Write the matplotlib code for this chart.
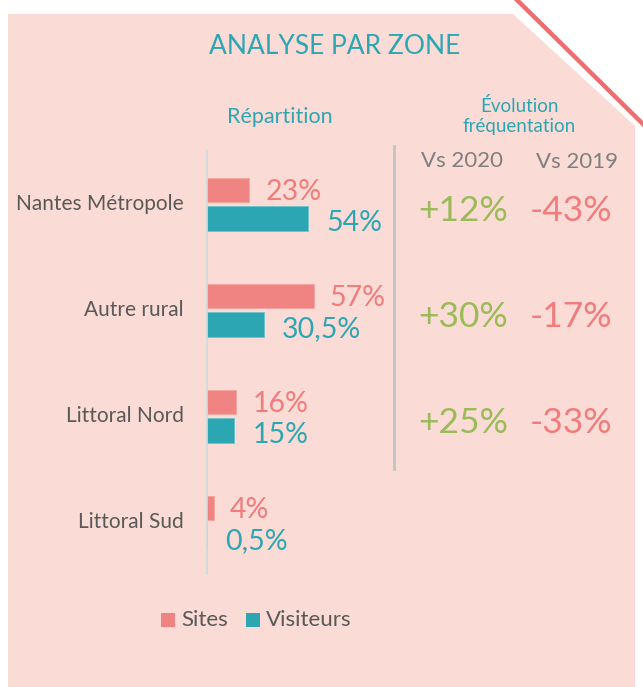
import matplotlib
matplotlib.use("Agg")
import matplotlib.pyplot as plt
from matplotlib.patches import Polygon, Rectangle
from matplotlib.lines import Line2D

plt.rcParams['font.family'] = ['Lato', 'DejaVu Sans']

zones = ['Nantes Métropole', 'Autre rural', 'Littoral Nord', 'Littoral Sud']
sites = [23, 57, 16, 4]
visiteurs = [54, 30.5, 15, 0.5]
sites_lbl = ['23%', '57%', '16%', '4%']
visit_lbl = ['54%', '30,5%', '15%', '0,5%']
vs2020 = ['+12%', '+30%', '+25%']
vs2019 = ['-43%', '-17%', '-33%']

bg = '#FADBD5'
pink = '#EF8482'
teal = '#2CA6B2'
green = '#9BBB59'
red = '#F07C7C'
grey = '#595959'

W, H = 643, 687
fig = plt.figure(figsize=(W / 100, H / 100), dpi=100, facecolor='white')

def fx(x): return x / W
def fy(y): return 1 - y / H

# pink panel with cut corner
pts = [(8, 14), (513, 14), (635, 126), (635, 687), (8, 687)]
fig.patches.append(Polygon([(fx(a), fy(b)) for a, b in pts], closed=True,
                           transform=fig.transFigure, facecolor=bg, edgecolor='none', zorder=-5))
fig.lines.append(Line2D([fx(517), fx(645)], [fy(0), fy(126)], transform=fig.transFigure,
                        color='#EE6E70', lw=3.2, zorder=-4))

# bar axes: x scale 1.89 px per %
px_per = 1.89
ax_w = 200
ax = fig.add_axes([fx(206), fy(575), ax_w / W, (575 - 150) / H])
ax.set_zorder(2)
ax.set_facecolor('none')
ax.set_xlim(0, ax_w / px_per)
ax.set_ylim(3.5, -0.51)
for s in ax.spines.values():
    s.set_visible(False)
ax.set_xticks([])
ax.set_yticks([])
ax.axvline(0, color='#D3DADD', lw=2)

ys = list(range(len(zones)))
h = 0.23
off = 0.135
ax.barh([y - off for y in ys], sites, height=h, color=pink, edgecolor='#F5A5A0', lw=0.6)
ax.barh([y + off for y in ys], visiteurs, height=h, color=teal, edgecolor='#6CC4CB', lw=0.6)

for y, v, t in zip(ys, sites, sites_lbl):
    ax.text(v + 8.5, y - off + 0.02, t, color=red, fontsize=20.5, va='center', ha='left')
for y, v, t in zip(ys, visiteurs, visit_lbl):
    ax.text(v + 9.5, y + off + 0.04, t, color=teal, fontsize=20.5, va='center', ha='left')

for y, z in zip(ys, zones):
    fig.text(fx(184), fy(204 + 106 * y), z, color=grey, fontsize=15, ha='right', va='center')

# evolution columns
ax.plot([(394 - 206) / px_per] * 2, [-0.55, 2.5], color='#C4C4C4', lw=2, clip_on=False)
for y, a, b in zip(ys, vs2020, vs2019):
    ax.text((463 - 206) / px_per, y + 0.07, a, color=green, fontsize=25.5, ha='center', va='center', clip_on=False)
    ax.text((571 - 206) / px_per, y + 0.07, b, color=red, fontsize=25.5, ha='center', va='center', clip_on=False)

fig.text(fx(335), fy(47), 'ANALYSE PAR ZONE', color=teal, fontsize=19, ha='center', va='center')
fig.text(fx(280), fy(117), 'Répartition', color=teal, fontsize=15.5, ha='center', va='center')
fig.text(fx(519), fy(116), 'Évolution\nfréquentation', color=teal, fontsize=13.5, ha='center',
         va='center', linespacing=1.2)
fig.text(fx(462), fy(161), 'Vs 2020', color='#7F7F7F', fontsize=16, ha='center', va='center')
fig.text(fx(577), fy(162), 'Vs 2019', color='#7F7F7F', fontsize=16, ha='center', va='center')

# legend
for x0, lab, col in [(161, 'Sites', pink), (246, 'Visiteurs', teal)]:
    fig.patches.append(Rectangle((fx(x0), fy(627)), 14 / W, 14 / H, transform=fig.transFigure,
                                 facecolor=col, edgecolor='none'))
    fig.text(fx(x0 + 20), fy(620), lab, color=grey, fontsize=16, ha='left', va='center')

fig.savefig('out.png', dpi=100, facecolor='white')
